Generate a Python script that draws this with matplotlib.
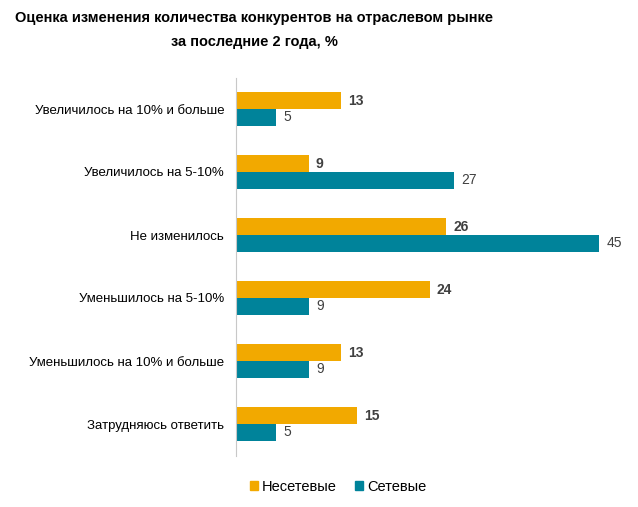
import matplotlib.pyplot as plt
from matplotlib.patches import Patch

plt.rcParams['font.family'] = ['Liberation Sans', 'DejaVu Sans']

categories = ['Увеличилось на 10% и больше', 'Увеличилось на 5-10%', 'Не изменилось',
              'Уменьшилось на 5-10%', 'Уменьшилось на 10% и больше', 'Затрудняюсь ответить']
non_chain = [13, 9, 26, 24, 13, 15]
chain = [5, 27, 45, 9, 9, 5]
series_names = ['Несетевые', 'Сетевые']

orange = '#F2A900'
teal = '#00839A'

fig = plt.figure(figsize=(6.38, 5.07), dpi=100)
ax = fig.add_axes([236 / 638, 51.5 / 507, 384 / 638, 378 / 507])

h = 0.265
y = list(range(len(categories)))
ax.barh([v - h / 2 for v in y], non_chain, height=h, color=orange)
ax.barh([v + h / 2 for v in y], chain, height=h, color=teal)

for i in range(len(categories)):
    ax.text(non_chain[i] + 0.9, y[i] - h / 2, str(non_chain[i]), va='center', ha='left',
            fontsize=10, fontweight='bold', color='#404040')
    ax.text(chain[i] + 0.9, y[i] + h / 2, str(chain[i]), va='center', ha='left',
            fontsize=10, color='#404040')

ax.set_ylim(len(categories) - 0.5, -0.5)
ax.set_xlim(0, 384 / 8.07)
ax.set_yticks(y)
ax.set_yticklabels(categories, fontsize=9.5, color='#000000')
ax.tick_params(axis='y', length=0, pad=8.5)
ax.set_xticks([])
for s in ['top', 'right', 'bottom']:
    ax.spines[s].set_visible(False)
ax.spines['left'].set_color('#C8C8C8')
ax.spines['left'].set_linewidth(0.8)

fig.text(254 / 638, 1 - 30 / 507, 'Оценка изменения количества конкурентов на отраслевом рынке\nза последние 2 года, %',
         ha='center', va='center', fontsize=10.5, fontweight='bold', linespacing=1.85)

handles = [Patch(color=orange), Patch(color=teal)]
fig.legend(handles, series_names, loc='center', bbox_to_anchor=(338 / 638, 1 - 487 / 507), ncol=2,
           frameon=False, fontsize=10.5, handlelength=0.55, handleheight=0.55, handletextpad=0.3,
           columnspacing=1.2)

fig.savefig('out.png', dpi=100)
